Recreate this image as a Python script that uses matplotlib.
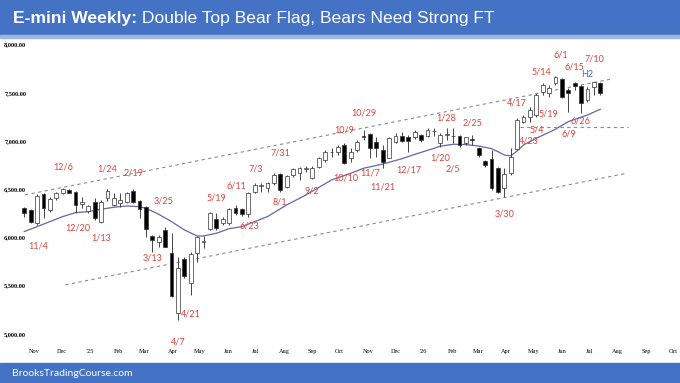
import numpy as np
import pandas as pd
import matplotlib
matplotlib.use("Agg")
import matplotlib.pyplot as plt
from matplotlib.patches import Rectangle

# weekly bars, first bar = week of 2024-10-21
start = pd.Timestamp("2024-10-21")

opens = [6305, 6285, 6146, 6447, 6284, 6405, 6463, 6495, 6474, 6346,
         6277, 6370, 6159, 6405, 6336, 6353, 6370, 6481, 6380, 6318,
         6017, 5955, 6077, 5841, 5212, 5773, 5530, 5835, 5950, 6084,
         6187, 6146, 6146, 6301, 6291, 6243, 6474, 6530, 6508, 6560,
         6657, 6525, 6647, 6664, 6712, 6612, 6733, 6802, 6884, 6888,
         6958, 6820, 6906, 7046, 7072, 6992, 6906, 6820, 6992, 7051,
         7037, 7037, 7058, 7051, 7100, 6975, 7065, 7050, 7051, 6975,
         7020, 6923, 6795, 6810, 6716, 6512, 6664, 6913, 7200, 7252,
         7269, 7511, 7494, 7598, 7639, 7528, 7598, 7570, 7425, 7563,
         7598]
highs = [6315, 6291, 6450, 6457, 6422, 6474, 6515, 6498, 6484, 6415,
         6336, 6405, 6387, 6498, 6457, 6463, 6474, 6498, 6387, 6325,
         6025, 6025, 6111, 6049, 5800, 5800, 5851, 6014, 6014, 6266,
         6249, 6215, 6301, 6336, 6301, 6474, 6560, 6560, 6577, 6664,
         6664, 6646, 6716, 6733, 6740, 6740, 6836, 6906, 6923, 6958,
         6975, 6923, 7010, 7113, 7079, 7044, 6958, 7044, 7079, 7096,
         7061, 7113, 7072, 7131, 7131, 7079, 7131, 7131, 7061, 7044,
         7061, 6940, 6802, 6906, 6733, 6722, 6923, 7234, 7269, 7355,
         7494, 7604, 7580, 7673, 7650, 7546, 7615, 7580, 7563, 7615,
         7615]
lows = [6211, 6152, 6128, 6198, 6266, 6387, 6450, 6457, 6250, 6301,
        6250, 6180, 6152, 6380, 6325, 6318, 6353, 6353, 6198, 6001,
        5851, 5903, 5897, 5385, 5143, 5576, 5402, 5748, 5890, 6076,
        6077, 6128, 6128, 6232, 6222, 6215, 6456, 6474, 6474, 6543,
        6474, 6508, 6630, 6595, 6681, 6602, 6716, 6785, 6836, 6854,
        6761, 6785, 6888, 7010, 6820, 6836, 6716, 6820, 6975, 6992,
        6888, 7017, 6992, 7044, 7051, 6940, 7010, 6975, 6940, 6958,
        6958, 6836, 6733, 6491, 6457, 6422, 6646, 6906, 7183, 7200,
        7252, 7476, 7459, 7580, 7442, 7303, 7528, 7287, 7407, 7476,
        7476]
closes = [6255, 6163, 6432, 6301, 6394, 6457, 6501, 6460, 6336, 6370,
          6325, 6198, 6370, 6484, 6405, 6387, 6463, 6364, 6291, 6084,
          5973, 6001, 5903, 5392, 5679, 5599, 5827, 6001, 5962, 6256,
          6094, 6190, 6291, 6256, 6239, 6457, 6543, 6538, 6560, 6646,
          6491, 6636, 6706, 6716, 6718, 6716, 6820, 6888, 6880, 6940,
          6768, 6888, 6992, 7040, 6923, 6923, 6785, 7027, 7051, 7000,
          7000, 7096, 7010, 7113, 7106, 7061, 7070, 7055, 6958, 7037,
          7012, 6854, 6750, 6509, 6474, 6660, 6836, 7217, 7252, 7321,
          7476, 7580, 7546, 7660, 7459, 7494, 7570, 7397, 7535, 7608,
          7494]

# moving average (bar number, price)
ma_bar = [0, 2, 4, 6, 8, 10, 12, 14, 16, 18, 19, 21, 23, 25, 27, 28, 30,
          32, 34, 38, 41, 44, 48, 51, 53, 56, 59, 61, 64, 65, 67, 69, 71,
          73, 74, 75, 76, 77, 78, 80, 83, 85, 88, 90]
ma_val = [6060, 6111, 6163, 6215, 6256, 6266, 6291, 6312, 6325, 6318, 6301,
          6239, 6163, 6077, 6014, 6014, 6042, 6090, 6111, 6215, 6336, 6439,
          6595, 6664, 6716, 6760, 6815, 6860, 6923, 6945, 6965, 6962, 6947,
          6920, 6888, 6854, 6844, 6895, 6958, 7027, 7121, 7200, 7269, 7328]

# trend lines (bar number, price)
channel_top = [(0.1, 6440), (91.5, 7639)]
channel_bottom = [(6.4, 5507), (94.1, 6664)]
support = [(77.5, 7141), (94.4, 7141)]

# date labels (text, bar number, price)
notes = [("11/4", 2.1, 5910), ("12/6", 6.1, 6733), ("12/20", 8.3, 6094),
         ("1/13", 12.0, 5990), ("1/24", 13.0, 6709), ("2/19", 17.0, 6671),
         ("3/13", 20.0, 5783), ("3/25", 21.7, 6380), ("4/7", 24.0, 4918),
         ("4/21", 26.0, 5205), ("5/19", 30.0, 6408), ("6/11", 33.1, 6536),
         ("6/23", 35.1, 6118), ("7/3", 36.2, 6709), ("7/31", 40.1, 6878),
         ("8/1", 40.0, 6364), ("9/2", 45.0, 6484), ("10/9", 50.0, 7113),
         ("10/10", 50.2, 6612), ("10/29", 53.0, 7293), ("11/7", 54.0, 6671),
         ("11/21", 56.0, 6519), ("12/17", 60.1, 6699), ("1/20", 65.0, 6823),
         ("1/28", 65.9, 7238), ("2/5", 67.0, 6709), ("2/25", 70.0, 7186),
         ("3/30", 75.0, 6239), ("4/17", 76.9, 7396), ("4/23", 78.8, 7000),
         ("5/4", 80.1, 7113), ("5/14", 80.8, 7712), ("5/19", 81.9, 7279),
         ("6/1", 83.8, 7891), ("6/9", 85.1, 7072), ("6/15", 85.9, 7770),
         ("6/26", 86.9, 7207), ("7/10", 89.1, 7847)]
h2_note = ("H2", 87.9, 7684)

yticks = [5000, 5500, 6000, 6500, 7000, 7500, 8000]

fig = plt.figure(figsize=(6.8, 3.83), dpi=100)
ax = fig.add_axes([0, 37 / 383, 1, 308 / 383])

x = np.arange(len(opens))
o = np.array(opens)
c = np.array(closes)
up = c >= o

ax.vlines(x, lows, highs, color="#444444", lw=0.7, zorder=2)
ax.bar(x, np.abs(c - o), bottom=np.minimum(o, c), width=0.62,
       color=np.where(up, "white", "black"), edgecolor="#333333", lw=0.5, zorder=3)

ax.plot(ma_bar, ma_val, color="#6266A8", lw=0.9, zorder=1)

for line in (channel_top, channel_bottom, support):
    xs, ys = zip(*line)
    ax.plot(xs, ys, color="#8C8C8C", lw=0.8, ls=(0, (3, 3)), zorder=1)

for label, bx, py in notes:
    ax.text(bx, py, label, color="#D9453D", fontsize=6.5, family="Lato",
            ha="center", va="center")
ax.text(h2_note[1], h2_note[2], h2_note[0], color="#3B6CC4", fontsize=6.5,
        family="Lato", ha="center", va="center")

ax.set_xlim(-24.3 / 6.4, (680 - 24.3) / 6.4)
ax.set_ylim(4873, 8067)

months = pd.date_range("2024-11-01", "2026-10-01", freq="MS")
ax.set_xticks([(m - start).days / 7 for m in months])
ax.set_xticklabels(["'" + m.strftime("%y") if m.month == 1 else m.strftime("%b") for m in months],
                   fontsize=4.5, family="Liberation Serif")
ax.set_yticks(yticks)
ax.set_yticklabels([f"{v:,.2f}" for v in yticks], fontsize=4.5, family="Liberation Serif",
                   fontweight="bold")
for lab in ax.get_yticklabels():
    lab.set_horizontalalignment("left")
ax.tick_params(axis="y", length=0, pad=-3)
ax.tick_params(axis="x", length=0, pad=2)
for s in ax.spines.values():
    s.set_visible(False)

# header and footer bands
fig.patches.append(Rectangle((0, 1 - 35 / 383), 1, 35 / 383, transform=fig.transFigure,
                             color="#4472C4", zorder=0))
fig.patches.append(Rectangle((0, 1 - 38 / 383), 1, 3 / 383, transform=fig.transFigure,
                             color="#9DB7E0", zorder=0))
fig.patches.append(Rectangle((0, 0), 1, 20 / 383, transform=fig.transFigure,
                             color="#4472C4", zorder=0))

# title: bold part then regular part right after it
t1 = fig.text(13 / 680, 1 - 18 / 383, "E-mini Weekly:", color="white", fontsize=12.6,
              fontweight="bold", family="Liberation Sans", va="center")
fig.canvas.draw()
bb = t1.get_window_extent()
fig.text(bb.x1 / 680, 1 - 18 / 383, " Double Top Bear Flag, Bears Need Strong FT",
         color="white", fontsize=12.6, family="Liberation Sans", va="center")

fig.text(12 / 680, 10 / 383, "BrooksTradingCourse.com", color="white", fontsize=7.5,
         family="Lato", va="center")

fig.savefig("out.png", dpi=100)
